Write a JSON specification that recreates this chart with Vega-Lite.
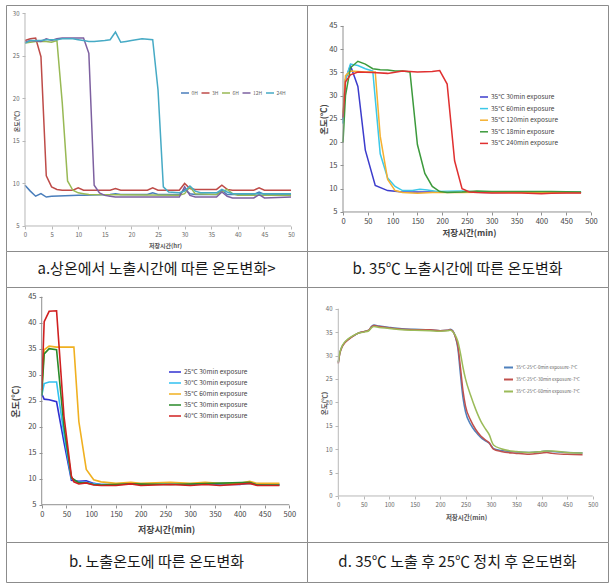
{
"$schema": "https://vega.github.io/schema/vega-lite/v6.json",
"padding": {"left": 5, "top": 4, "right": 0, "bottom": 0},
"background": "white",
"config": {"font": "Noto Sans CJK KR", "view": {"stroke": "#8c8c8c", "strokeWidth": 1}},
"datasets": {
"p1": [
{"s":"0H","x":0,"y":9.8},{"s":"0H","x":1,"y":9.1},{"s":"0H","x":2,"y":8.5},{"s":"0H","x":3,"y":8.8},{"s":"0H","x":4,"y":8.4},{"s":"0H","x":5,"y":8.5},{"s":"0H","x":10,"y":8.6},{"s":"0H","x":11,"y":8.6},{"s":"0H","x":16,"y":8.7},{"s":"0H","x":17,"y":8.8},{"s":"0H","x":18,"y":8.7},{"s":"0H","x":23,"y":8.7},{"s":"0H","x":24,"y":8.9},{"s":"0H","x":25,"y":8.7},{"s":"0H","x":29,"y":8.7},{"s":"0H","x":30,"y":9.3},{"s":"0H","x":31,"y":8.8},{"s":"0H","x":32,"y":8.7},{"s":"0H","x":36,"y":8.7},{"s":"0H","x":37,"y":9.2},{"s":"0H","x":38,"y":8.7},{"s":"0H","x":43,"y":8.7},{"s":"0H","x":44,"y":9.0},{"s":"0H","x":45,"y":8.7},{"s":"0H","x":50,"y":8.7},
{"s":"3H","x":0,"y":26.8},{"s":"3H","x":1,"y":27.0},{"s":"3H","x":2,"y":27.1},{"s":"3H","x":3,"y":24.9},{"s":"3H","x":4,"y":10.9},{"s":"3H","x":5,"y":9.6},{"s":"3H","x":6,"y":9.3},{"s":"3H","x":7,"y":9.2},{"s":"3H","x":9,"y":9.2},{"s":"3H","x":10,"y":9.5},{"s":"3H","x":11,"y":9.2},{"s":"3H","x":16,"y":9.2},{"s":"3H","x":17,"y":9.4},{"s":"3H","x":18,"y":9.2},{"s":"3H","x":23,"y":9.2},{"s":"3H","x":24,"y":9.5},{"s":"3H","x":25,"y":9.2},{"s":"3H","x":29,"y":9.2},{"s":"3H","x":30,"y":10.0},{"s":"3H","x":31,"y":9.4},{"s":"3H","x":32,"y":9.3},{"s":"3H","x":36,"y":9.3},{"s":"3H","x":37,"y":9.8},{"s":"3H","x":38,"y":9.3},{"s":"3H","x":39,"y":9.2},{"s":"3H","x":43,"y":9.2},{"s":"3H","x":44,"y":9.5},{"s":"3H","x":45,"y":9.2},{"s":"3H","x":50,"y":9.2},
{"s":"6H","x":0,"y":26.5},{"s":"6H","x":1,"y":26.6},{"s":"6H","x":2,"y":26.7},{"s":"6H","x":4,"y":26.7},{"s":"6H","x":5,"y":26.6},{"s":"6H","x":6,"y":26.8},{"s":"6H","x":7,"y":19.5},{"s":"6H","x":8,"y":10.3},{"s":"6H","x":9,"y":9.2},{"s":"6H","x":10,"y":8.9},{"s":"6H","x":11,"y":8.8},{"s":"6H","x":12,"y":8.7},{"s":"6H","x":29,"y":8.6},{"s":"6H","x":30,"y":8.8},{"s":"6H","x":31,"y":9.6},{"s":"6H","x":32,"y":8.8},{"s":"6H","x":36,"y":8.7},{"s":"6H","x":37,"y":9.0},{"s":"6H","x":38,"y":9.3},{"s":"6H","x":39,"y":8.8},{"s":"6H","x":40,"y":8.6},{"s":"6H","x":50,"y":8.6},
{"s":"12H","x":0,"y":26.6},{"s":"12H","x":1,"y":26.8},{"s":"12H","x":3,"y":26.7},{"s":"12H","x":4,"y":27.0},{"s":"12H","x":5,"y":26.8},{"s":"12H","x":6,"y":27.0},{"s":"12H","x":7,"y":27.1},{"s":"12H","x":11,"y":27.1},{"s":"12H","x":12,"y":25.3},{"s":"12H","x":13,"y":9.8},{"s":"12H","x":14,"y":8.9},{"s":"12H","x":15,"y":8.6},{"s":"12H","x":16,"y":8.5},{"s":"12H","x":17,"y":8.4},{"s":"12H","x":29,"y":8.4},{"s":"12H","x":30,"y":9.6},{"s":"12H","x":31,"y":8.6},{"s":"12H","x":32,"y":8.4},{"s":"12H","x":36,"y":8.4},{"s":"12H","x":37,"y":9.0},{"s":"12H","x":38,"y":8.5},{"s":"12H","x":39,"y":8.3},{"s":"12H","x":43,"y":8.3},{"s":"12H","x":44,"y":8.7},{"s":"12H","x":45,"y":8.3},{"s":"12H","x":50,"y":8.4},
{"s":"24H","x":0,"y":26.5},{"s":"24H","x":1,"y":26.8},{"s":"24H","x":3,"y":26.8},{"s":"24H","x":4,"y":26.9},{"s":"24H","x":6,"y":26.9},{"s":"24H","x":7,"y":27.0},{"s":"24H","x":9,"y":27.0},{"s":"24H","x":10,"y":26.9},{"s":"24H","x":11,"y":26.8},{"s":"24H","x":12,"y":26.7},{"s":"24H","x":13,"y":26.7},{"s":"24H","x":15,"y":26.8},{"s":"24H","x":16,"y":26.9},{"s":"24H","x":17,"y":27.8},{"s":"24H","x":18,"y":26.6},{"s":"24H","x":19,"y":26.7},{"s":"24H","x":20,"y":26.8},{"s":"24H","x":22,"y":27.0},{"s":"24H","x":24,"y":26.9},{"s":"24H","x":25,"y":21.0},{"s":"24H","x":26,"y":9.6},{"s":"24H","x":27,"y":9.0},{"s":"24H","x":29,"y":8.9},{"s":"24H","x":30,"y":9.1},{"s":"24H","x":31,"y":9.7},{"s":"24H","x":32,"y":9.1},{"s":"24H","x":33,"y":8.9},{"s":"24H","x":36,"y":8.9},{"s":"24H","x":37,"y":9.3},{"s":"24H","x":38,"y":9.0},{"s":"24H","x":39,"y":8.8},{"s":"24H","x":50,"y":8.8}
],
"p2": [
{"s":"a","x":0,"y":25},{"s":"a","x":5,"y":33.5},{"s":"a","x":15,"y":36.5},{"s":"a","x":30,"y":32},{"s":"a","x":45,"y":18.3},{"s":"a","x":65,"y":10.7},{"s":"a","x":90,"y":9.6},{"s":"a","x":120,"y":9.3},{"s":"a","x":180,"y":9.3},{"s":"a","x":240,"y":9.3},{"s":"a","x":300,"y":9.2},{"s":"a","x":360,"y":9.3},{"s":"a","x":420,"y":9.2},{"s":"a","x":480,"y":9.2},
{"s":"b","x":0,"y":24},{"s":"b","x":5,"y":33.5},{"s":"b","x":15,"y":36.8},{"s":"b","x":30,"y":36.5},{"s":"b","x":45,"y":35.8},{"s":"b","x":60,"y":35.3},{"s":"b","x":75,"y":17.5},{"s":"b","x":90,"y":12.3},{"s":"b","x":105,"y":10.5},{"s":"b","x":120,"y":9.6},{"s":"b","x":140,"y":9.6},{"s":"b","x":155,"y":9.9},{"s":"b","x":170,"y":9.7},{"s":"b","x":190,"y":9.4},{"s":"b","x":240,"y":9.5},{"s":"b","x":270,"y":9.3},{"s":"b","x":360,"y":9.3},{"s":"b","x":480,"y":9.3},
{"s":"c","x":0,"y":26.3},{"s":"c","x":5,"y":34.3},{"s":"c","x":15,"y":35.3},{"s":"c","x":30,"y":35.2},{"s":"c","x":45,"y":35.1},{"s":"c","x":65,"y":35.1},{"s":"c","x":75,"y":21.3},{"s":"c","x":90,"y":12},{"s":"c","x":105,"y":9.6},{"s":"c","x":120,"y":9.2},{"s":"c","x":150,"y":9.0},{"s":"c","x":180,"y":9.2},{"s":"c","x":240,"y":9.2},{"s":"c","x":300,"y":9.3},{"s":"c","x":360,"y":9.2},{"s":"c","x":480,"y":9.2},
{"s":"d","x":0,"y":20},{"s":"d","x":5,"y":30},{"s":"d","x":15,"y":36},{"s":"d","x":30,"y":37.4},{"s":"d","x":45,"y":36.8},{"s":"d","x":60,"y":35.8},{"s":"d","x":75,"y":35.6},{"s":"d","x":90,"y":35.5},{"s":"d","x":105,"y":35.3},{"s":"d","x":120,"y":35.3},{"s":"d","x":135,"y":35.1},{"s":"d","x":150,"y":19.5},{"s":"d","x":165,"y":13.3},{"s":"d","x":180,"y":10.5},{"s":"d","x":195,"y":9.4},{"s":"d","x":210,"y":9.2},{"s":"d","x":240,"y":9.3},{"s":"d","x":270,"y":9.5},{"s":"d","x":300,"y":9.4},{"s":"d","x":360,"y":9.4},{"s":"d","x":420,"y":9.4},{"s":"d","x":480,"y":9.3},
{"s":"e","x":0,"y":25.3},{"s":"e","x":5,"y":33},{"s":"e","x":15,"y":34.5},{"s":"e","x":30,"y":35.1},{"s":"e","x":60,"y":35},{"s":"e","x":90,"y":34.8},{"s":"e","x":120,"y":35.3},{"s":"e","x":150,"y":35.1},{"s":"e","x":180,"y":35.2},{"s":"e","x":195,"y":35.4},{"s":"e","x":210,"y":32.5},{"s":"e","x":225,"y":16},{"s":"e","x":240,"y":10},{"s":"e","x":255,"y":9.3},{"s":"e","x":270,"y":9.2},{"s":"e","x":300,"y":9.1},{"s":"e","x":360,"y":9.1},{"s":"e","x":400,"y":8.9},{"s":"e","x":420,"y":9.0},{"s":"e","x":450,"y":9.1},{"s":"e","x":480,"y":9.1}
],
"p3": [
{"s":"a","x":0,"y":26.3},{"s":"a","x":5,"y":25.3},{"s":"a","x":15,"y":25.2},{"s":"a","x":30,"y":24.8},{"s":"a","x":45,"y":17},{"s":"a","x":60,"y":9.7},{"s":"a","x":75,"y":9.5},{"s":"a","x":90,"y":9.6},{"s":"a","x":105,"y":9.1},{"s":"a","x":120,"y":8.9},{"s":"a","x":150,"y":8.9},{"s":"a","x":180,"y":9.1},{"s":"a","x":200,"y":8.9},{"s":"a","x":260,"y":9.1},{"s":"a","x":300,"y":8.9},{"s":"a","x":330,"y":9.1},{"s":"a","x":360,"y":8.9},{"s":"a","x":400,"y":8.9},{"s":"a","x":420,"y":9.2},{"s":"a","x":435,"y":8.9},{"s":"a","x":480,"y":8.9},
{"s":"b","x":0,"y":26},{"s":"b","x":5,"y":28.3},{"s":"b","x":15,"y":28.6},{"s":"b","x":30,"y":28.6},{"s":"b","x":45,"y":18.5},{"s":"b","x":60,"y":10},{"s":"b","x":75,"y":9.3},{"s":"b","x":90,"y":9.3},{"s":"b","x":105,"y":9.0},{"s":"b","x":120,"y":8.9},{"s":"b","x":180,"y":9.0},{"s":"b","x":260,"y":9.0},{"s":"b","x":420,"y":9.1},{"s":"b","x":480,"y":8.9},
{"s":"c","x":0,"y":27},{"s":"c","x":5,"y":34.8},{"s":"c","x":15,"y":35.5},{"s":"c","x":30,"y":35.3},{"s":"c","x":45,"y":35.3},{"s":"c","x":65,"y":35.3},{"s":"c","x":75,"y":21},{"s":"c","x":90,"y":11.8},{"s":"c","x":105,"y":9.8},{"s":"c","x":120,"y":9.4},{"s":"c","x":150,"y":9.1},{"s":"c","x":180,"y":9.3},{"s":"c","x":200,"y":9.1},{"s":"c","x":260,"y":9.3},{"s":"c","x":300,"y":9.1},{"s":"c","x":330,"y":9.3},{"s":"c","x":360,"y":9.1},{"s":"c","x":400,"y":9.1},{"s":"c","x":420,"y":9.5},{"s":"c","x":435,"y":9.1},{"s":"c","x":480,"y":9.1},
{"s":"d","x":0,"y":26},{"s":"d","x":5,"y":34},{"s":"d","x":15,"y":35},{"s":"d","x":30,"y":34.8},{"s":"d","x":45,"y":20},{"s":"d","x":60,"y":10.2},{"s":"d","x":75,"y":9.2},{"s":"d","x":90,"y":9.2},{"s":"d","x":105,"y":8.9},{"s":"d","x":120,"y":8.8},{"s":"d","x":180,"y":9.0},{"s":"d","x":260,"y":8.9},{"s":"d","x":420,"y":9.3},{"s":"d","x":435,"y":8.8},{"s":"d","x":480,"y":8.8},
{"s":"e","x":0,"y":27},{"s":"e","x":5,"y":40.2},{"s":"e","x":15,"y":42.2},{"s":"e","x":30,"y":42.3},{"s":"e","x":45,"y":22},{"s":"e","x":60,"y":10.5},{"s":"e","x":65,"y":9.4},{"s":"e","x":75,"y":9.0},{"s":"e","x":90,"y":9.2},{"s":"e","x":105,"y":8.8},{"s":"e","x":120,"y":8.7},{"s":"e","x":150,"y":8.7},{"s":"e","x":180,"y":9.0},{"s":"e","x":200,"y":8.7},{"s":"e","x":260,"y":8.9},{"s":"e","x":300,"y":8.7},{"s":"e","x":330,"y":8.9},{"s":"e","x":360,"y":8.7},{"s":"e","x":420,"y":9.1},{"s":"e","x":435,"y":8.7},{"s":"e","x":480,"y":8.7}
],
"p4": [
{"s":"a","x":0,"y":28.5},{"s":"a","x":3,"y":30.5},{"s":"a","x":7,"y":31.8},{"s":"a","x":12,"y":32.7},{"s":"a","x":20,"y":33.5},{"s":"a","x":30,"y":34.2},{"s":"a","x":40,"y":34.8},{"s":"a","x":50,"y":35.1},{"s":"a","x":60,"y":35.4},{"s":"a","x":65,"y":36.2},{"s":"a","x":70,"y":36.5},{"s":"a","x":80,"y":36.3},{"s":"a","x":100,"y":36.0},{"s":"a","x":125,"y":35.7},{"s":"a","x":150,"y":35.6},{"s":"a","x":180,"y":35.5},{"s":"a","x":200,"y":35.3},{"s":"a","x":215,"y":35.4},{"s":"a","x":220,"y":35.6},{"s":"a","x":225,"y":35.3},{"s":"a","x":230,"y":34.0},{"s":"a","x":235,"y":31.5},{"s":"a","x":240,"y":26},{"s":"a","x":245,"y":21},{"s":"a","x":250,"y":18},{"s":"a","x":260,"y":15.3},{"s":"a","x":270,"y":13.7},{"s":"a","x":280,"y":12.5},{"s":"a","x":290,"y":11.7},{"s":"a","x":297,"y":11.2},{"s":"a","x":302,"y":10.5},{"s":"a","x":305,"y":10.1},{"s":"a","x":320,"y":9.7},{"s":"a","x":350,"y":9.4},{"s":"a","x":375,"y":9.3},{"s":"a","x":400,"y":9.5},{"s":"a","x":410,"y":9.6},{"s":"a","x":420,"y":9.5},{"s":"a","x":450,"y":9.3},{"s":"a","x":480,"y":9.2},
{"s":"b","x":0,"y":28.3},{"s":"b","x":3,"y":30.4},{"s":"b","x":7,"y":31.7},{"s":"b","x":12,"y":32.6},{"s":"b","x":20,"y":33.4},{"s":"b","x":30,"y":34.2},{"s":"b","x":40,"y":34.8},{"s":"b","x":50,"y":35.1},{"s":"b","x":60,"y":35.4},{"s":"b","x":65,"y":36.1},{"s":"b","x":70,"y":36.4},{"s":"b","x":80,"y":36.2},{"s":"b","x":100,"y":35.9},{"s":"b","x":125,"y":35.6},{"s":"b","x":150,"y":35.5},{"s":"b","x":180,"y":35.5},{"s":"b","x":200,"y":35.3},{"s":"b","x":215,"y":35.4},{"s":"b","x":220,"y":35.5},{"s":"b","x":225,"y":35.2},{"s":"b","x":230,"y":34.0},{"s":"b","x":235,"y":32.0},{"s":"b","x":240,"y":27.5},{"s":"b","x":245,"y":22.5},{"s":"b","x":250,"y":19.2},{"s":"b","x":260,"y":16.2},{"s":"b","x":270,"y":14.2},{"s":"b","x":280,"y":12.8},{"s":"b","x":290,"y":11.9},{"s":"b","x":297,"y":11.3},{"s":"b","x":302,"y":10.4},{"s":"b","x":305,"y":10.0},{"s":"b","x":320,"y":9.5},{"s":"b","x":350,"y":9.1},{"s":"b","x":375,"y":8.9},{"s":"b","x":400,"y":9.2},{"s":"b","x":410,"y":9.3},{"s":"b","x":420,"y":9.1},{"s":"b","x":450,"y":8.9},{"s":"b","x":480,"y":8.8},
{"s":"c","x":0,"y":28.6},{"s":"c","x":3,"y":30.6},{"s":"c","x":7,"y":31.9},{"s":"c","x":12,"y":32.8},{"s":"c","x":20,"y":33.6},{"s":"c","x":30,"y":34.3},{"s":"c","x":40,"y":34.8},{"s":"c","x":50,"y":35.0},{"s":"c","x":60,"y":35.3},{"s":"c","x":65,"y":35.9},{"s":"c","x":70,"y":36.2},{"s":"c","x":80,"y":36.0},{"s":"c","x":100,"y":35.8},{"s":"c","x":125,"y":35.5},{"s":"c","x":150,"y":35.4},{"s":"c","x":180,"y":35.3},{"s":"c","x":200,"y":35.2},{"s":"c","x":215,"y":35.3},{"s":"c","x":220,"y":35.4},{"s":"c","x":225,"y":35.1},{"s":"c","x":230,"y":34.3},{"s":"c","x":235,"y":33.0},{"s":"c","x":240,"y":30.5},{"s":"c","x":245,"y":27.5},{"s":"c","x":250,"y":25.0},{"s":"c","x":260,"y":21.5},{"s":"c","x":270,"y":18.5},{"s":"c","x":280,"y":16.0},{"s":"c","x":290,"y":14.2},{"s":"c","x":297,"y":13.0},{"s":"c","x":302,"y":11.5},{"s":"c","x":305,"y":10.9},{"s":"c","x":320,"y":10.1},{"s":"c","x":350,"y":9.5},{"s":"c","x":375,"y":9.3},{"s":"c","x":400,"y":9.5},{"s":"c","x":410,"y":9.6},{"s":"c","x":420,"y":9.6},{"s":"c","x":450,"y":9.3},{"s":"c","x":480,"y":9.2}
]
},
"columns": 2,
"spacing": 0,
"bounds": "flush",
"align": "each",
"resolve": {"scale": {"x": "independent", "y": "independent", "color": "independent"}, "axis": {"x": "independent", "y": "independent"}, "legend": {"color": "independent"}},
"concat": [
{
"width": 301, "height": 246,
"resolve": {"axis": {"x": "independent", "y": "independent"}},
"layer": [
{"data": {"name": "p1"}, "mark": {"type": "line", "strokeWidth": 1.5},
"encoding": {
"x": {"field": "x", "type": "quantitative", "scale": {"domain": [-3.57, 53.0], "nice": false, "zero": false},
 "axis": {"values": [0,5,10,15,20,25,30,35,40,45,50], "offset": -25, "domain": false, "grid": false, "tickSize": 3, "tickColor": "#b8b8b8", "labelFontSize": 6, "labelColor": "#666", "labelPadding": 2, "labelFlush": false, "labelOverlap": false, "title": "저장시간(hr)", "titleFontSize": 6, "titleColor": "#555", "titleFontWeight": "bold", "titleX": 159, "titleY": 19, "titleBaseline": "middle", "titleAlign": "center"}},
"y": {"field": "y", "type": "quantitative", "scale": {"domain": [2.06, 30.98], "nice": false, "zero": false},
 "axis": {"values": [5,10,15,20,25,30], "offset": -19, "domain": false, "grid": false, "tickSize": 3, "tickColor": "#b8b8b8", "labelFontSize": 6, "labelColor": "#666", "labelPadding": 3, "labelOverlap": false, "title": "온도(℃)", "titleFontSize": 6, "titleColor": "#555", "titleFontWeight": "bold", "titleX": -9, "titleY": 116, "titleAngle": -90, "titleBaseline": "middle", "titleAlign": "center"}},
"color": {"field": "s", "type": "nominal", "scale": {"domain": ["0H","3H","6H","12H","24H"], "range": ["#4a7ebb","#be4b48","#98b954","#7d60a0","#46aac5"]},
 "legend": {"orient": "none", "legendX": 174, "legendY": 83, "direction": "horizontal", "columns": 5, "title": null, "symbolType": "stroke", "symbolStrokeWidth": 1.5, "symbolSize": 64, "labelFontSize": 5, "labelColor": "#666", "columnPadding": 0.5, "labelOffset": 1.5, "padding": 0}}
}},
{"data": {"values": [{}]}, "mark": {"type": "rule", "color": "#b8b8b8", "strokeWidth": 1}, "encoding": {"x": {"datum": 0, "type": "quantitative", "axis": null}, "x2": {"datum": 50}, "y": {"datum": 5, "type": "quantitative", "axis": null}}},
{"data": {"values": [{}]}, "mark": {"type": "rule", "color": "#b8b8b8", "strokeWidth": 1}, "encoding": {"x": {"datum": 0, "type": "quantitative", "axis": null}, "y": {"datum": 5, "type": "quantitative", "axis": null}, "y2": {"datum": 30}}}
]
},
{
"width": 301, "height": 246,
"resolve": {"axis": {"x": "independent", "y": "independent"}},
"layer": [
{"data": {"name": "p2"}, "mark": {"type": "line", "strokeWidth": 1.5},
"encoding": {
"x": {"field": "x", "type": "quantitative", "scale": {"domain": [-72.6, 534.3], "nice": false, "zero": false},
 "axis": {"values": [0,50,100,150,200,250,300,350,400,450,500], "offset": -39, "domain": false, "grid": false, "tickSize": 3, "tickColor": "#909090", "labelFontSize": 7.5, "labelColor": "#444", "labelPadding": 2, "labelFlush": false, "labelOverlap": false, "title": "저장시간(min)", "titleFontSize": 8.5, "titleColor": "#444", "titleFontWeight": "bold", "titleX": 162, "titleY": 20, "titleBaseline": "middle", "titleAlign": "center"}},
"y": {"field": "y", "type": "quantitative", "scale": {"domain": [-3.39, 49.5], "nice": false, "zero": false},
 "axis": {"values": [5,10,15,20,25,30,35,40,45], "offset": -36, "domain": false, "grid": false, "tickSize": 3, "tickColor": "#909090", "labelFontSize": 7.5, "labelColor": "#444", "labelPadding": 3, "labelOverlap": false, "title": "온도(℃)", "titleFontSize": 8.5, "titleColor": "#444", "titleFontWeight": "bold", "titleX": -20, "titleY": 114, "titleAngle": -90, "titleBaseline": "middle", "titleAlign": "center"}},
"color": {"field": "s", "type": "nominal", "scale": {"domain": ["a","b","c","d","e"], "range": ["#3c3ccc","#3cc8e8","#f5b030","#3c9a3c","#e03030"]},
 "legend": {"orient": "none", "legendX": 172, "legendY": 87, "direction": "vertical", "title": null, "symbolType": "stroke", "symbolStrokeWidth": 1.5, "symbolSize": 64, "labelFontSize": 6.5, "labelColor": "#444", "rowPadding": 2.6, "labelOffset": 2, "padding": 0,
  "labelExpr": "{'a':'35°C 30min exposure','b':'35°C 60min exposure','c':'35°C 120min exposure','d':'35°C 18min exposure','e':'35°C 240min exposure'}[datum.label]"}}
}},
{"data": {"values": [{}]}, "mark": {"type": "rule", "color": "#909090", "strokeWidth": 1}, "encoding": {"x": {"datum": 0, "type": "quantitative", "axis": null}, "x2": {"datum": 500}, "y": {"datum": 5, "type": "quantitative", "axis": null}}},
{"data": {"values": [{}]}, "mark": {"type": "rule", "color": "#909090", "strokeWidth": 1}, "encoding": {"x": {"datum": 0, "type": "quantitative", "axis": null}, "y": {"datum": 5, "type": "quantitative", "axis": null}, "y2": {"datum": 45}}}
]
},
{"width": 301, "height": 36, "view": {"stroke": "#8c8c8c", "strokeWidth": 1, "fill": "white"}, "data": {"values": [{"c": "a.상온에서 노출시간에 따른 온도변화>"}]}, "mark": {"type": "text", "fontSize": 15, "color": "#1a1a1a"}, "encoding": {"text": {"field": "c"}}},
{"width": 301, "height": 36, "view": {"stroke": "#8c8c8c", "strokeWidth": 1, "fill": "white"}, "data": {"values": [{"c": "b. 35℃ 노출시간에 따른 온도변화"}]}, "mark": {"type": "text", "fontSize": 15, "color": "#1a1a1a"}, "encoding": {"text": {"field": "c"}}},
{
"width": 301, "height": 255,
"resolve": {"axis": {"x": "independent", "y": "independent"}},
"layer": [
{"data": {"name": "p3"}, "mark": {"type": "line", "strokeWidth": 1.6},
"encoding": {
"x": {"field": "x", "type": "quantitative", "scale": {"domain": [-72.1, 535.7], "nice": false, "zero": false},
 "axis": {"values": [0,50,100,150,200,250,300,350,400,450,500], "offset": -37, "domain": false, "grid": false, "tickSize": 3, "tickColor": "#909090", "labelFontSize": 7.5, "labelColor": "#444", "labelPadding": 2, "labelFlush": false, "labelOverlap": false, "title": "저장시간(min)", "titleFontSize": 9, "titleColor": "#444", "titleFontWeight": "bold", "titleX": 160, "titleY": 24, "titleBaseline": "middle", "titleAlign": "center"}},
"y": {"field": "y", "type": "quantitative", "scale": {"domain": [-2.17, 46.87], "nice": false, "zero": false},
 "axis": {"values": [5,10,15,20,25,30,35,40,45], "offset": -36, "domain": false, "grid": false, "tickSize": 3, "tickColor": "#909090", "labelFontSize": 7.5, "labelColor": "#444", "labelPadding": 3, "labelOverlap": false, "title": "온도(℃)", "titleFontSize": 9, "titleColor": "#444", "titleFontWeight": "bold", "titleX": -27, "titleY": 114, "titleAngle": -90, "titleBaseline": "middle", "titleAlign": "center"}},
"color": {"field": "s", "type": "nominal", "scale": {"domain": ["a","b","c","d","e"], "range": ["#3030d0","#30c0f0","#f0b020","#2a8a2a","#d02020"]},
 "legend": {"orient": "none", "legendX": 162, "legendY": 78, "direction": "vertical", "title": null, "symbolType": "stroke", "symbolStrokeWidth": 1.5, "symbolSize": 144, "labelFontSize": 6.5, "labelColor": "#444", "rowPadding": 0, "labelOffset": 2, "padding": 0,
  "labelExpr": "{'a':'25°C 30min exposure','b':'30°C 30min exposure','c':'35°C 60min exposure','d':'35°C 30min exposure','e':'40°C 30min exposure'}[datum.label]"}}
}},
{"data": {"values": [{}]}, "mark": {"type": "rule", "color": "#909090", "strokeWidth": 1}, "encoding": {"x": {"datum": 0, "type": "quantitative", "axis": null}, "x2": {"datum": 500}, "y": {"datum": 5, "type": "quantitative", "axis": null}}},
{"data": {"values": [{}]}, "mark": {"type": "rule", "color": "#909090", "strokeWidth": 1}, "encoding": {"x": {"datum": 0, "type": "quantitative", "axis": null}, "y": {"datum": 5, "type": "quantitative", "axis": null}, "y2": {"datum": 45}}}
]
},
{
"width": 301, "height": 255,
"resolve": {"axis": {"x": "independent", "y": "independent"}},
"layer": [
{"data": {"name": "p4"}, "mark": {"type": "line", "strokeWidth": 1.5, "interpolate": "monotone"},
"encoding": {
"x": {"field": "x", "type": "quantitative", "scale": {"domain": [-61.5, 530], "nice": false, "zero": false},
 "axis": {"values": [0,50,100,150,200,250,300,350,400,450,500], "offset": -46, "domain": false, "grid": false, "tickSize": 3, "tickColor": "#b8b8b8", "labelFontSize": 6, "labelColor": "#666", "labelPadding": 2, "labelFlush": false, "labelOverlap": false, "title": "저장시간(min)", "titleFontSize": 6.5, "titleColor": "#555", "titleFontWeight": "bold", "titleX": 159, "titleY": 21, "titleBaseline": "middle", "titleAlign": "center"}},
"y": {"field": "y", "type": "quantitative", "scale": {"domain": [-9.83, 44.64], "nice": false, "zero": false},
 "axis": {"values": [0,5,10,15,20,25,30,35,40], "offset": -31, "domain": false, "grid": false, "tickSize": 3, "tickColor": "#b8b8b8", "labelFontSize": 6, "labelColor": "#666", "labelPadding": 3, "labelOverlap": false, "title": "온도(℃)", "titleFontSize": 6.5, "titleColor": "#555", "titleFontWeight": "bold", "titleX": -14, "titleY": 116, "titleAngle": -90, "titleBaseline": "middle", "titleAlign": "center"}},
"color": {"field": "s", "type": "nominal", "scale": {"domain": ["a","b","c"], "range": ["#4f81bd","#c0504d","#9bbb59"]},
 "legend": {"orient": "none", "legendX": 196, "legendY": 75, "direction": "vertical", "title": null, "symbolType": "stroke", "symbolStrokeWidth": 2, "symbolSize": 81, "labelFontSize": 4.5, "labelColor": "#666", "rowPadding": 2, "labelOffset": 2, "padding": 0,
  "labelExpr": "{'a':'35°C-25°C-0min exposure-7°C','b':'35°C-25°C-30min exposure-7°C','c':'35°C-25°C-60min exposure-7°C'}[datum.label]"}}
}},
{"data": {"values": [{}]}, "mark": {"type": "rule", "color": "#b8b8b8", "strokeWidth": 1}, "encoding": {"x": {"datum": 0, "type": "quantitative", "axis": null}, "x2": {"datum": 500}, "y": {"datum": 0, "type": "quantitative", "axis": null}}},
{"data": {"values": [{}]}, "mark": {"type": "rule", "color": "#b8b8b8", "strokeWidth": 1}, "encoding": {"x": {"datum": 0, "type": "quantitative", "axis": null}, "y": {"datum": 0, "type": "quantitative", "axis": null}, "y2": {"datum": 40}}}
]
},
{"width": 301, "height": 40, "view": {"stroke": "#8c8c8c", "strokeWidth": 1, "fill": "white"}, "data": {"values": [{"c": "b. 노출온도에 따른 온도변화"}]}, "mark": {"type": "text", "fontSize": 15, "color": "#1a1a1a"}, "encoding": {"text": {"field": "c"}}},
{"width": 301, "height": 40, "view": {"stroke": "#8c8c8c", "strokeWidth": 1, "fill": "white"}, "data": {"values": [{"c": "d. 35℃ 노출 후 25℃ 정치 후 온도변화"}]}, "mark": {"type": "text", "fontSize": 15, "color": "#1a1a1a"}, "encoding": {"text": {"field": "c"}}}
]
}
